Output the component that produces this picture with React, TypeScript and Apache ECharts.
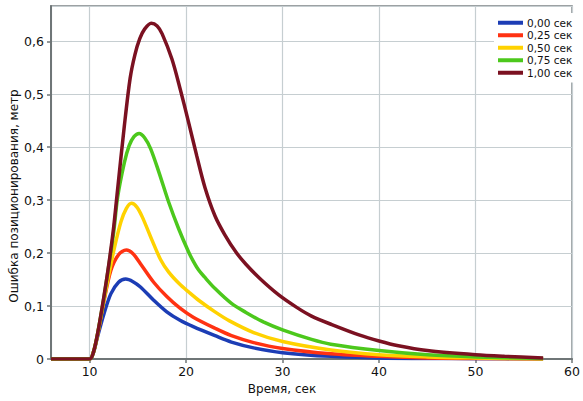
import React, { useEffect, useRef } from "react";
import * as echarts from "echarts";

const seriesNames = ["0,00 сек", "0,25 сек", "0,50 сек", "0,75 сек", "1,00 сек"];
const seriesColors = ["#1c3db5", "#ff3212", "#ffd200", "#4cc81c", "#7b1121"];

const blueX = [6, 10, 10.4, 10.82, 11.5, 12.2, 13, 13.74, 14.5, 15.27, 16.64, 18, 19.37, 20.74, 23, 24.7, 27, 30, 35, 40, 45, 50, 57];
const blueY = [0, 0, 0.012, 0.042, 0.086, 0.123, 0.145, 0.151, 0.146, 0.136, 0.111, 0.089, 0.073, 0.061, 0.044, 0.032, 0.021, 0.012, 0.005, 0.002, 0.001, 0.0005, 0];

const redX = [6, 10, 10.4, 10.82, 11.5, 12.2, 13, 13.8, 14.5, 15.27, 16.64, 18, 19.37, 20.74, 23, 24.7, 27, 30, 35, 40, 45, 50, 57];
const redY = [0, 0, 0.013, 0.045, 0.11, 0.167, 0.197, 0.206, 0.199, 0.18, 0.145, 0.118, 0.096, 0.079, 0.058, 0.044, 0.031, 0.02, 0.01, 0.005, 0.002, 0.001, 0];

const yellowX = [6, 10, 10.4, 10.82, 11.5, 12, 12.56, 13.25, 13.8, 14.34, 14.9, 15.47, 16.5, 17.35, 18.2, 19.3, 20.3, 21.3, 23, 24.5, 27, 30, 35, 40, 45, 50, 57];
const yellowY = [0, 0, 0.013, 0.046, 0.113, 0.16, 0.209, 0.259, 0.284, 0.294, 0.287, 0.268, 0.223, 0.188, 0.164, 0.142, 0.126, 0.111, 0.089, 0.072, 0.05, 0.033, 0.017, 0.008, 0.004, 0.002, 0];

const greenX = [6, 10, 10.4, 10.82, 11.5, 12, 12.5, 12.9, 13.59, 14.1, 14.6, 15.13, 15.7, 16.33, 17.18, 18.2, 19.23, 20.26, 20.77, 21.3, 21.9, 23, 24.7, 26.2, 28, 30, 33, 35, 40, 45, 50, 57];
const greenY = [0, 0, 0.013, 0.047, 0.118, 0.178, 0.24, 0.305, 0.37, 0.403, 0.42, 0.426, 0.418, 0.397, 0.353, 0.296, 0.246, 0.202, 0.184, 0.168, 0.155, 0.133, 0.105, 0.088, 0.07, 0.055, 0.037, 0.028, 0.016, 0.008, 0.004, 0.001];

const brownX = [6, 10, 10.4, 10.82, 11.5, 12, 12.5, 12.9, 13.6, 14.2, 14.7, 15.2, 15.7, 16.39, 17.0, 17.52, 18.54, 19.4, 20.26, 21.1, 21.97, 23, 24, 25.2, 26.2, 27.7, 29.6, 31.5, 33, 35.1, 38, 40, 42, 45, 50, 53, 57];
const brownY = [0, 0, 0.013, 0.047, 0.12, 0.18, 0.25, 0.32, 0.44, 0.53, 0.575, 0.605, 0.623, 0.634, 0.629, 0.614, 0.566, 0.509, 0.447, 0.384, 0.323, 0.27, 0.235, 0.201, 0.179, 0.151, 0.121, 0.097, 0.081, 0.065, 0.045, 0.034, 0.025, 0.016, 0.008, 0.005, 0.002];

const seriesX = [blueX, redX, yellowX, greenX, brownX];
const seriesY = [blueY, redY, yellowY, greenY, brownY];

const xTitle = "Время, сек";
const yTitle = "Ошибка позиционирования, метр";

const FONT = "DejaVu Sans";

export default function App() {
  const ref = useRef<HTMLDivElement>(null);
  useEffect(() => {
    if (!ref.current) return;
    const chart = echarts.init(ref.current, null, { renderer: "svg" });
    const series = seriesNames.map((name, i) => ({
      name,
      type: "line",
      data: seriesX[i].map((x, j) => [x, seriesY[i][j]]),
      showSymbol: false,
      smooth: 0.3,
      lineStyle: { color: seriesColors[i], width: 3.5 },
      itemStyle: { color: seriesColors[i] },
      z: 2 + i,
    }));
    chart.setOption({
      animation: false,
      backgroundColor: "#ffffff",
      textStyle: { fontFamily: FONT },
      grid: {
        left: 51,
        top: 6,
        right: 6,
        bottom: 42,
        show: true,
        borderColor: "#7c8385",
        borderWidth: 1.5,
      },
      legend: {
        orient: "vertical",
        left: 494,
        top: 13,
        icon: "rect",
        itemWidth: 25,
        itemHeight: 4,
        itemGap: 1,
        padding: [4, 5, 4, 4],
        backgroundColor: "#ffffff",
        textStyle: { fontFamily: FONT, fontSize: 10.5, color: "#111", lineHeight: 11.5, padding: [0, 0, 0, -1] },
        data: seriesNames,
      },
      xAxis: {
        type: "value",
        min: 6,
        max: 60,
        splitNumber: 5,
        axisLine: { show: true, lineStyle: { color: "#6f7677", width: 2 } },
        axisTick: { show: true, length: 4, lineStyle: { color: "#6f7677", width: 1.5 } },
        axisLabel: { showMinLabel: false, color: "#111", fontSize: 12.5, fontFamily: FONT, margin: 6 },
        splitLine: { show: true, lineStyle: { color: "#c6ced1", width: 1.2 } },
      },
      yAxis: {
        type: "value",
        min: 0,
        max: 0.6667,
        interval: 0.1,
        axisLine: { show: true, lineStyle: { color: "#6f7677", width: 2 } },
        axisTick: { show: true, length: 4, lineStyle: { color: "#6f7677", width: 1.5 } },
        axisLabel: {
          showMaxLabel: false,
          color: "#111",
          fontSize: 12.5,
          fontFamily: FONT,
          margin: 7,
          formatter: (v: number) => (Math.round(v * 10) / 10).toString().replace(".", ","),
        },
        splitLine: { show: true, lineStyle: { color: "#c6ced1", width: 1.2 } },
      },
      graphic: [
        {
          type: "text",
          x: 282,
          y: 389,
          style: { text: xTitle, fontFamily: FONT, fontSize: 12, fill: "#111", align: "center", verticalAlign: "middle" },
        },
        {
          type: "text",
          x: 14,
          y: 196,
          rotation: Math.PI / 2,
          style: { text: yTitle, fontFamily: FONT, fontSize: 12, fill: "#111", align: "center", verticalAlign: "middle" },
        },
      ],
      series,
    });
    return () => chart.dispose();
  }, []);
  return <div ref={ref} style={{ width: 583, height: 401, position: "absolute", left: 0, top: 0 }} />;
}
